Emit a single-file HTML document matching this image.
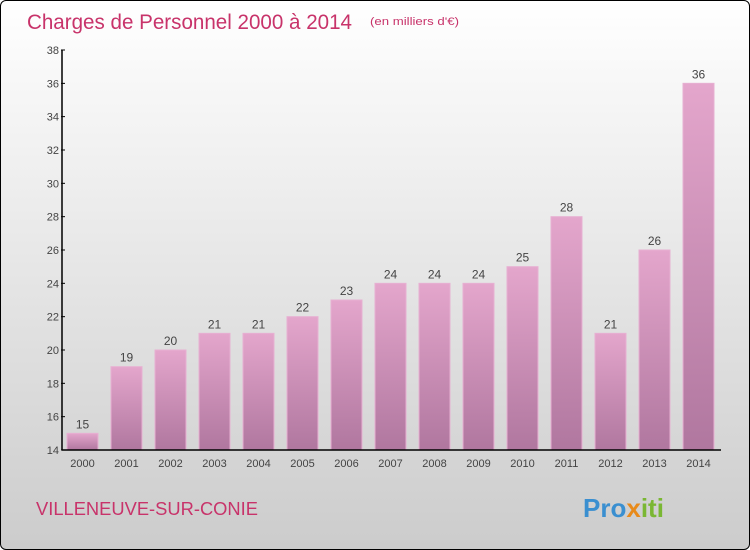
<!DOCTYPE html>
<html><head><meta charset="utf-8"><style>
body{margin:0}
#c{position:relative;width:748px;height:548px;border:1px solid #000;border-radius:6px;overflow:hidden;background:linear-gradient(#fff,#ccc);font-family:"Liberation Sans",sans-serif}
</style></head><body>
<div id="c">
<svg width="748" height="548" id="svg">
<defs><linearGradient id="bg" x1="0" y1="0" x2="0" y2="1"><stop offset="0" stop-color="#e4a6cc"/><stop offset="1" stop-color="#b0779f"/></linearGradient></defs>
<text x="26" y="28" font-size="21" fill="#c8336a" textLength="325" lengthAdjust="spacingAndGlyphs">Charges de Personnel 2000 à 2014</text>
<text x="369" y="24" font-size="11" fill="#c8336a" textLength="89" lengthAdjust="spacingAndGlyphs">(en milliers d'€)</text>
<text x="35" y="514" font-size="18" fill="#c8336a" textLength="222" lengthAdjust="spacingAndGlyphs">VILLENEUVE-SUR-CONIE</text>
<text x="582" y="516" font-size="26" font-weight="bold" fill="#3a8fd0">Pro<tspan fill="#e88a1a">x</tspan><tspan fill="#7ab733">iti</tspan></text>
<g id="g"></g>
</svg></div>
<script>
const years=["2000","2001","2002","2003","2004","2005","2006","2007","2008","2009","2010","2011","2012","2013","2014"];
const values=[15,19,20,21,21,22,23,24,24,24,25,28,21,26,36];
const yTicks=[14,16,18,20,22,24,26,28,30,32,34,36,38];
const ns="http://www.w3.org/2000/svg",g=document.getElementById('g');
const y=v=>449-(v-14)*(400/24), x=i=>81.5+i*44;
function mk(t,a,txt){const e=document.createElementNS(ns,t);for(const k in a)e.setAttribute(k,a[k]);if(txt!=null)e.textContent=txt;g.appendChild(e);return e;}
values.forEach((v,i)=>{
 const b=mk('rect',{x:x(i)-15.5,y:y(v),width:31,height:y(14)-y(v),fill:'url(#bg)',stroke:'#e7b0d2','stroke-width':1});
 
 
 const l=mk('text',{x:x(i),y:y(v)-5,'font-size':12,fill:'#444','text-anchor':'middle'},v);
 
 
 const t=mk('text',{x:x(i),y:466,'font-size':11,fill:'#444','text-anchor':'middle'},years[i]);
 
 
});
yTicks.forEach(v=>{
 mk('line',{x1:60,x2:64,y1:y(v),y2:y(v),stroke:'#000'});
 const t=mk('text',{x:58,y:y(v)+4,'font-size':11,fill:'#444','text-anchor':'end'},v);
 
 
});
const ya=mk('line',{x1:61,x2:61,y1:y(38),y2:y(14),stroke:'#000','stroke-width':1.5});


const xa=mk('line',{x1:61,x2:720,y1:y(14),y2:y(14),stroke:'#000','stroke-width':1.5});


</script>
</body></html>
